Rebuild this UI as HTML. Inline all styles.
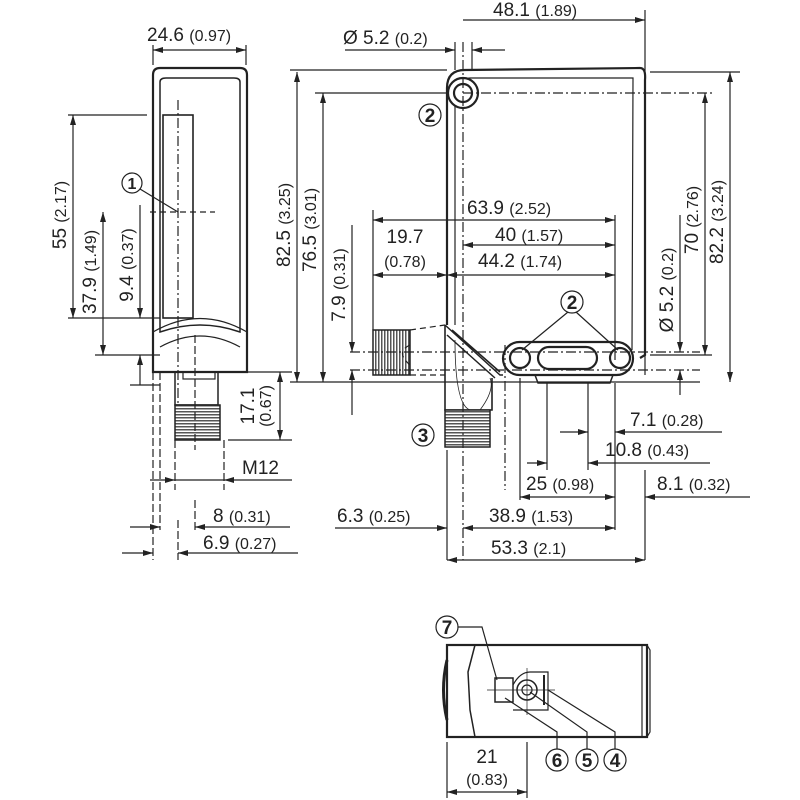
<!DOCTYPE html>
<html><head><meta charset="utf-8"><style>
body{margin:0;background:#fff}
svg{display:block}
text{font-family:"Liberation Sans",sans-serif;fill:#222;font-size:19px}
.s{font-size:16px}
</style></head><body>
<svg width="800" height="800" viewBox="0 0 800 800" xmlns="http://www.w3.org/2000/svg">
<defs>
<marker id="a" viewBox="0 0 10 6" refX="10" refY="3" markerWidth="10" markerHeight="6" orient="auto-start-reverse" markerUnits="userSpaceOnUse"><path d="M0,0L10,3L0,6z" fill="#222"/></marker>
<pattern id="th" width="4" height="3" patternUnits="userSpaceOnUse"><rect width="4" height="3" fill="#fff"/><rect width="4" height="1.5" fill="#555"/></pattern>
<pattern id="tv" width="3" height="4" patternUnits="userSpaceOnUse"><rect width="3" height="4" fill="#fff"/><rect width="1.5" height="4" fill="#555"/></pattern>
</defs>
<g stroke="#222" fill="none" stroke-width="1.2">
<!-- LEFT VIEW -->
<path d="M153,75 Q153,68 160,68 L240,68 Q247,68 247,75 L247,372 L153,372 Z" stroke-width="2.2"/>
<path d="M160,82 Q160,78 166,78 L234,78 Q240,78 240,82 L240,332 Q200,318 160,332 Z" stroke-width="1.5"/>
<path d="M153,332 Q200,305 247,332 M160,347 Q200,325 240,347"/>
<rect x="163" y="115" width="30" height="203" stroke-width="1.6"/>
<path d="M178,100 L178,440" stroke-dasharray="10,3,2,3"/>
<path d="M150,212 L215,212" stroke-dasharray="6,4"/>
<path d="M175,372 L175,405 L218,405 L218,372" stroke-width="1.5"/>
<rect x="183" y="372" width="32" height="7"/>
<rect x="175" y="405" width="45" height="35" fill="url(#th)" stroke-width="1.5"/>
<path d="M153,372V560 M160,372V530 M175,440V490 M195,335V450 M195,500V530 M224,440V490 M178,520V560" stroke-dasharray="8,3"/>
<path d="M153,45V65 M246,45V65"/>
<path d="M153,50H246" marker-start="url(#a)" marker-end="url(#a)"/>
<path d="M68,115H147 M68,318H160 M95,355H160 M130,385H160"/>
<path d="M73,115V318" marker-start="url(#a)" marker-end="url(#a)"/>
<path d="M103,212V355" marker-start="url(#a)" marker-end="url(#a)"/>
<path d="M140,205V318" marker-end="url(#a)"/><path d="M140,385V355" marker-end="url(#a)"/>
<path d="M225,372H292 M228,440H292"/>
<path d="M280,372V440" marker-start="url(#a)" marker-end="url(#a)"/>
<path d="M150,480H175" marker-end="url(#a)"/><path d="M292,480H224" marker-end="url(#a)"/><path d="M175,480H224"/>
<path d="M130,527H160" marker-end="url(#a)"/><path d="M290,527H195" marker-end="url(#a)"/>
<path d="M122,553H153" marker-end="url(#a)"/><path d="M298,553H178" marker-end="url(#a)"/>
<circle cx="132" cy="183" r="10"/><path d="M140,189L178,212"/>
<!-- RIGHT VIEW -->
<path d="M447,325 L447,88 Q447,70 465,70 L640,68 Q646,68 645,80 L645,355 L640,358" stroke-width="2.2"/>
<path d="M455,325 L455,100 Q455,78 470,78 L633,78 L632,350"/>
<path d="M445,325 L500,375 L503,375 M447,335 L495,378 M452,330 L500,372" stroke-width="1.5"/>
<path d="M445,325 L445,410 L492,410 L492,378" stroke-width="1.6"/>
<path d="M455,340 Q455,405 470,410 M480,410 Q495,390 490,378" stroke-width="0.8"/>
<rect x="445" y="410" width="45" height="37" fill="url(#th)" stroke-width="1.5"/>
<rect x="503" y="342" width="130" height="33" rx="16.5" stroke-width="2.2" fill="#fff"/>
<circle cx="520" cy="358" r="10" stroke-width="2.2"/><circle cx="620" cy="358" r="10" stroke-width="2.2"/>
<rect x="538" y="347" width="59" height="22" rx="11" stroke-width="2.2"/>
<path d="M535,375 L538,383 L610,383 L613,375" stroke-width="1.5"/>
<circle cx="463" cy="93" r="15" stroke-width="2.2" fill="#fff"/><circle cx="463" cy="93" r="9" stroke-width="2.2"/>
<path d="M463,93H712 M463,42V560 M505,345V490" stroke-dasharray="10,3,2,3"/>
<path d="M373,210V330"/>
<rect x="373" y="330" width="37" height="45" fill="url(#tv)" stroke-width="1.5"/>
<path d="M410,330L445,325 M410,375L445,375 M410,345Q395,352 410,365" stroke-dasharray="6,4"/>
<path d="M350,352H700 M350,370H700" stroke-dasharray="10,3,2,3"/>
<circle cx="430" cy="115" r="11"/><circle cx="572" cy="302" r="11"/><path d="M568,312L522,350 M576,312L618,350"/>
<circle cx="423" cy="435" r="11"/>
<path d="M455,42V70 M472,42V70 M645,10V375"/>
<path d="M463,20H645" marker-end="url(#a)"/>
<path d="M345,50H455" marker-end="url(#a)"/><path d="M505,50H472" marker-end="url(#a)"/>
<path d="M290,70H447 M315,93H447 M290,382H700 M650,72H740 M650,355H712"/>
<path d="M297,72V382" marker-start="url(#a)" marker-end="url(#a)"/>
<path d="M323,93V382" marker-start="url(#a)" marker-end="url(#a)"/>
<path d="M352,225V352" marker-end="url(#a)"/><path d="M352,415V370" marker-end="url(#a)"/>
<path d="M373,220H615" marker-start="url(#a)" marker-end="url(#a)"/>
<path d="M463,245H615" marker-start="url(#a)" marker-end="url(#a)"/>
<path d="M373,275H447" marker-start="url(#a)" marker-end="url(#a)"/>
<path d="M447,275H615" marker-start="url(#a)" marker-end="url(#a)"/>
<path d="M615,215V360"/>
<path d="M680,215V352" marker-end="url(#a)"/><path d="M680,395V370" marker-end="url(#a)"/>
<path d="M705,93V355" marker-start="url(#a)" marker-end="url(#a)"/>
<path d="M730,72V382" marker-start="url(#a)" marker-end="url(#a)"/>
<path d="M520,378V500 M547,383V470 M588,383V470 M615,383V530 M645,470V560 M447,450V560"/>
<path d="M560,432H588" marker-end="url(#a)"/><path d="M722,432H615" marker-end="url(#a)"/>
<path d="M527,463H547" marker-end="url(#a)"/><path d="M710,463H588" marker-end="url(#a)"/>
<path d="M520,497H615" marker-start="url(#a)" marker-end="url(#a)"/>
<path d="M750,497H645" marker-end="url(#a)"/>
<path d="M335,528H447" marker-end="url(#a)"/>
<path d="M463,528H615" marker-start="url(#a)" marker-end="url(#a)"/>
<path d="M447,560H645" marker-start="url(#a)" marker-end="url(#a)"/>
<!-- BOTTOM VIEW -->
<rect x="447" y="645" width="200" height="92" stroke-width="2.2"/>
<path d="M642,645V737 M647,645L650,650V732L647,737"/>
<path d="M447,660 Q440,690 447,720" stroke-width="3"/>
<path d="M475,645 L468,672 L470,710 L475,737" stroke-width="1.5"/>
<rect x="495" y="678" width="18" height="24" stroke-width="1.5"/>
<path d="M513,685 Q520,672 530,672 L548,672 L548,710 L513,710"/>
<circle cx="527" cy="690" r="10" stroke-width="1.5"/><circle cx="527" cy="690" r="5"/>
<path d="M544,675V705" stroke-width="2"/>
<path d="M487,690H555 M527,668V715" stroke-width="0.7"/>
<circle cx="447" cy="627" r="11"/><path d="M458,627H482L497,680"/>
<circle cx="557" cy="760" r="11"/><circle cx="587" cy="760" r="11"/><circle cx="615" cy="760" r="11"/>
<path d="M505,698L557,732V749 M530,692L587,732V749 M548,690L615,732V749"/>
<path d="M447,742V798 M527,742V798"/>
<path d="M447,792H527" marker-start="url(#a)" marker-end="url(#a)"/>
</g>
<g>
<text x="147" y="41">24.6 <tspan class="s">(0.97)</tspan></text>
<text x="132" y="189" text-anchor="middle" style="font-size:16px;font-weight:bold">1</text>
<text transform="translate(66,215) rotate(-90)" text-anchor="middle">55 <tspan class="s">(2.17)</tspan></text>
<text transform="translate(96,272) rotate(-90)" text-anchor="middle">37.9 <tspan class="s">(1.49)</tspan></text>
<text transform="translate(133,265) rotate(-90)" text-anchor="middle">9.4 <tspan class="s">(0.37)</tspan></text>
<text transform="translate(254,406) rotate(-90)" text-anchor="middle">17.1</text>
<text transform="translate(271,406) rotate(-90)" text-anchor="middle" class="s">(0.67)</text>
<text x="242" y="474">M12</text>
<text x="213" y="522">8 <tspan class="s">(0.31)</tspan></text>
<text x="203" y="549">6.9 <tspan class="s">(0.27)</tspan></text>
<text x="493" y="16">48.1 <tspan class="s">(1.89)</tspan></text>
<text x="343" y="44">Ø 5.2 <tspan class="s">(0.2)</tspan></text>
<text x="430" y="122" text-anchor="middle" style="font-weight:bold">2</text>
<text x="572" y="309" text-anchor="middle" style="font-weight:bold">2</text>
<text x="423" y="442" text-anchor="middle" style="font-weight:bold">3</text>
<text transform="translate(290,225) rotate(-90)" text-anchor="middle">82.5 <tspan class="s">(3.25)</tspan></text>
<text transform="translate(316,230) rotate(-90)" text-anchor="middle">76.5 <tspan class="s">(3.01)</tspan></text>
<text transform="translate(345,285) rotate(-90)" text-anchor="middle">7.9 <tspan class="s">(0.31)</tspan></text>
<text x="467" y="214">63.9 <tspan class="s">(2.52)</tspan></text>
<text x="495" y="241">40 <tspan class="s">(1.57)</tspan></text>
<text x="405" y="243" text-anchor="middle">19.7</text>
<text x="405" y="267" text-anchor="middle" class="s">(0.78)</text>
<text x="478" y="267">44.2 <tspan class="s">(1.74)</tspan></text>
<text transform="translate(673,290) rotate(-90)" text-anchor="middle">Ø 5.2 <tspan class="s">(0.2)</tspan></text>
<text transform="translate(698,220) rotate(-90)" text-anchor="middle">70 <tspan class="s">(2.76)</tspan></text>
<text transform="translate(723,222) rotate(-90)" text-anchor="middle">82.2 <tspan class="s">(3.24)</tspan></text>
<text x="630" y="426">7.1 <tspan class="s">(0.28)</tspan></text>
<text x="605" y="456">10.8 <tspan class="s">(0.43)</tspan></text>
<text x="526" y="490">25 <tspan class="s">(0.98)</tspan></text>
<text x="657" y="490">8.1 <tspan class="s">(0.32)</tspan></text>
<text x="337" y="522">6.3 <tspan class="s">(0.25)</tspan></text>
<text x="489" y="522">38.9 <tspan class="s">(1.53)</tspan></text>
<text x="491" y="554">53.3 <tspan class="s">(2.1)</tspan></text>
<text x="447" y="634" text-anchor="middle" style="font-weight:bold">7</text>
<text x="557" y="767" text-anchor="middle" style="font-weight:bold">6</text>
<text x="587" y="767" text-anchor="middle" style="font-weight:bold">5</text>
<text x="615" y="767" text-anchor="middle" style="font-weight:bold">4</text>
<text x="487" y="763" text-anchor="middle">21</text>
<text x="487" y="785" text-anchor="middle" class="s">(0.83)</text>
</g>
</svg>
</body></html>
